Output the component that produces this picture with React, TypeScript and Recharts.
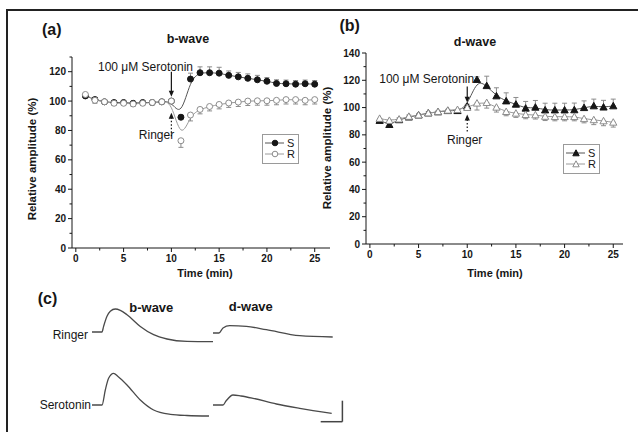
import React from 'react'
import {
    LineChart,
    Line,
    XAxis,
    YAxis,
    ErrorBar,
    ReferenceLine,
    Legend,
} from 'recharts'

// time after start of recording (min)
const MINUTES = [1, 2, 3, 4, 5, 6, 7, 8, 9, 10, 11, 12, 13, 14, 15, 16, 17, 18, 19, 20, 21, 22, 23, 24, 25]

// (a) b-wave, relative amplitude (%)
const BWAVE_S = [103.5, 101, 99.5, 99, 99, 98.5, 99, 99, 99.5, 100, 89, 115, 119.3, 119.3, 119, 117.5, 116.5, 115.5, 114.5, 113.5, 112, 111.8, 111.5, 111.8, 111.5]
const BWAVE_S_ERR = [1.5, 1.5, 1, 1, 1, 1, 1, 1, 1, 1, 1.5, 4, 4, 4, 4, 3, 3, 3, 3, 2.5, 2.5, 2.5, 2.5, 2.5, 2.5]
const BWAVE_R = [104.5, 100.5, 99.5, 98.5, 98.5, 98, 98.5, 99, 99.5, 100, 73, 90.5, 94.3, 96.3, 97.7, 98.7, 99.3, 100, 100.2, 100.2, 100.5, 101, 101, 100.5, 101]
const BWAVE_R_ERR = [2, 2, 1.5, 1.5, 1.5, 1.5, 1.5, 1.5, 1.5, 1.5, 4.5, 4, 3, 3, 3, 3, 3, 3, 3, 3, 3, 3, 3, 3, 3]

// (b) d-wave, relative amplitude (%)
const DWAVE_S = [90.5, 87.5, 91, 93, 94.5, 96, 96.8, 97.7, 97.7, 101, 120.5, 116, 108.5, 104.8, 102.4, 99.5, 100.2, 98.2, 98.2, 98.2, 98.3, 99.9, 101.2, 100.3, 101.2]
const DWAVE_S_ERR = [1.5, 1.5, 1.5, 1.5, 1, 1, 1, 1, 1, 1.5, 2, 7, 6, 6, 5, 5, 5, 5, 5, 5, 5, 5, 5, 5, 5]
const DWAVE_R = [92, 90.5, 91.5, 93.5, 94.5, 96, 97, 98, 98.5, 100, 103.2, 103.6, 100.2, 97, 95.8, 94.8, 94.6, 93.5, 93.3, 93.3, 93.3, 91.8, 91, 90.2, 89.2]
const DWAVE_R_ERR = [1.5, 1.5, 1.5, 1.5, 1, 1, 1, 1, 1, 1, 5, 4, 3.5, 3, 3, 3, 3, 3, 3, 3, 3, 3, 3.5, 3.5, 3.5]

const X_TICKS = [0, 2.5, 5, 7.5, 10, 12.5, 15, 17.5, 20, 22.5, 25]
const Y_TICKS_A = [0, 10, 20, 30, 40, 50, 60, 70, 80, 90, 100, 110, 120, 130]
const Y_TICKS_B = [0, 10, 20, 30, 40, 50, 60, 70, 80, 90, 100, 110, 120, 130, 140]

// (c) sample ERG traces: time (ms) vs amplitude (uV) from baseline
const RINGER_B_MS = [0, 10, 11.6, 15, 18.3, 23.3, 28.3, 35, 48.3, 61.6, 75, 95, 121]
const RINGER_B_UV = [0, 0, 5.6, 15.7, 20.7, 23, 21.7, 17.3, 5.6, -2.7, -7, -9.4, -9.7]
const SERO_B_MS = [0, 10, 13.3, 16.6, 21.6, 26, 35, 48.3, 61.6, 78.3, 95, 117]
const SERO_B_UV = [0, 0, 15, 26.7, 31.7, 28.5, 20, 5, -5, -9.3, -10.5, -11]
const RINGER_D_MS = [0, 6, 10, 16.7, 33.4, 53.4, 86.7, 119.7]
const RINGER_D_UV = [0, 0, 5, 7.3, 6.6, 3.3, -2.7, -4]
const SERO_D_MS = [0, 10, 13, 20, 28, 40, 63.4, 86.7, 118.7]
const SERO_D_UV = [0, 0, 4, 10, 9, 6.7, 1, -3.3, -8.3]
const SCALE_BAR_MS = [107.7, 129.4]
const SCALE_BAR_UV = [-16.7, 4.3]

const INK = '#161616'
const LINE_S = '#555'
const LINE_R = '#9a9a9a'
const ERR = '#8c8c8c'
const FONT = '"Liberation Sans", Arial, sans-serif'

const rows = (s: number[], sErr: number[], r: number[], rErr: number[]) =>
    MINUTES.map((t, i) => ({
        t,
        s: s[i],
        r: r[i],
        sErr: [0, sErr[i]],
        rErr: [rErr[i], 0],
    }))

const circleDot = (filled: boolean) => (p: any) => (
    <circle
        key={`c-${p.index}`}
        cx={p.cx}
        cy={p.cy}
        r={3}
        fill={filled ? INK : '#fff'}
        stroke={filled ? INK : ERR}
        strokeWidth={1}
    />
)

const triangleDot = (filled: boolean) => (p: any) => {
    const s = 3.6
    return (
        <polygon
            key={`t-${p.index}`}
            points={`${p.cx},${p.cy - s} ${p.cx + s},${p.cy + s * 0.8} ${p.cx - s},${p.cy + s * 0.8}`}
            fill={filled ? INK : '#fff'}
            stroke={filled ? INK : ERR}
            strokeWidth={1}
        />
    )
}

const XTick = (p: any) => {
    const v = p.payload.value
    const major = v % 5 === 0
    return (
        <g>
            <line x1={p.x} x2={p.x} y1={p.y} y2={p.y + (major ? 4 : 2.5)} stroke={INK} />
            {major && (
                <text x={p.x} y={p.y + 14} textAnchor="middle" fontSize={10} fontWeight="bold" fill={INK} fontFamily={FONT}>
                    {v}
                </text>
            )}
        </g>
    )
}

const YTick = (p: any) => {
    const v = p.payload.value
    const major = v % 20 === 0
    return (
        <g>
            <line x1={p.x} x2={p.x - (major ? 4 : 2.5)} y1={p.y} y2={p.y} stroke={INK} />
            {major && (
                <text x={p.x - 6} y={p.y + 3.5} textAnchor="end" fontSize={10} fontWeight="bold" fill={INK} fontFamily={FONT}>
                    {v}
                </text>
            )}
        </g>
    )
}

// vertical arrow, head at the end of the segment given by `down`
const Arrow = (down: boolean, dashed: boolean) => (p: any) => {
    const x = p.x1
    const top = Math.min(p.y1, p.y2)
    const bottom = Math.max(p.y1, p.y2)
    const tip = down ? bottom : top
    const d = down ? -1 : 1
    return (
        <g>
            <line
                x1={x}
                x2={x}
                y1={down ? top : bottom}
                y2={tip + d * 4}
                stroke={INK}
                strokeWidth={1.2}
                strokeDasharray={dashed ? '1.5 2' : undefined}
            />
            <polygon points={`${x - 2.6},${tip + d * 6} ${x + 2.6},${tip + d * 6} ${x},${tip}`} fill={INK} />
        </g>
    )
}

const LegendBox = (marker: 'circle' | 'triangle') => () => {
    const item = (label: string, filled: boolean, color: string) => (
        <div style={{ display: 'flex', alignItems: 'center', height: 11 }}>
            <svg width={19} height={10}>
                <line x1={0} x2={19} y1={5} y2={5} stroke={color} strokeWidth={1} />
                {marker === 'circle' ? (
                    <circle cx={10} cy={5} r={2.8} fill={filled ? INK : '#fff'} stroke={filled ? INK : ERR} />
                ) : (
                    <polygon points={`10,1.8 13.2,7.8 6.8,7.8`} fill={filled ? INK : '#fff'} stroke={filled ? INK : ERR} />
                )}
            </svg>
            <span style={{ fontSize: 11, marginLeft: 3, color: INK, fontFamily: FONT, lineHeight: 1 }}>{label}</span>
        </div>
    )
    return (
        <div style={{ border: '1px solid #9a9a9a', padding: '2.5px 3px 3.5px 2px', background: '#fff' }}>
            {item('S', true, LINE_S)}
            {item('R', false, LINE_R)}
        </div>
    )
}

interface PanelProps {
    data: ReturnType<typeof rows>
    left: number
    top: number
    plotTop: number
    plotWidth: number
    xMax: number
    yMax: number
    yTicks: number[]
    marker: 'circle' | 'triangle'
    legendPos: { left: number; top: number }
    seroArrow: [number, number]
    ringerArrow: [number, number]
}

function TimeCoursePanel(props: PanelProps) {
    const { data, marker } = props
    const dot = marker === 'circle' ? circleDot : triangleDot
    return (
        <div style={{ position: 'absolute', left: props.left, top: props.top }}>
            <LineChart
                width={72 + props.plotWidth}
                height={props.plotTop + 191 + 40}
                data={data}
                margin={{ top: props.plotTop, right: 0, bottom: 0, left: 0 }}
            >
                <XAxis
                    dataKey="t"
                    type="number"
                    domain={[-0.4, props.xMax]}
                    ticks={X_TICKS}
                    interval={0}
                    tickSize={0}
                    tickMargin={0}
                    tick={XTick}
                    height={40}
                    stroke={INK}
                    allowDataOverflow
                />
                <YAxis
                    type="number"
                    domain={[0, props.yMax]}
                    ticks={props.yTicks}
                    interval={0}
                    tickSize={0}
                    tickMargin={0}
                    tick={YTick}
                    width={72}
                    stroke={INK}
                    allowDataOverflow
                />
                <ReferenceLine
                    segment={[{ x: 10, y: props.seroArrow[0] }, { x: 10, y: props.seroArrow[1] }]}
                    shape={Arrow(true, false)}
                />
                <ReferenceLine
                    segment={[{ x: 10, y: props.ringerArrow[0] }, { x: 10, y: props.ringerArrow[1] }]}
                    shape={Arrow(false, true)}
                />
                <Line
                    dataKey="s"
                    type="basis"
                    stroke={LINE_S}
                    strokeWidth={1}
                    dot={dot(true)}
                    isAnimationActive={false}
                >
                    <ErrorBar dataKey="sErr" direction="y" width={2.5} stroke={ERR} strokeWidth={1} />
                </Line>
                <Line
                    dataKey="r"
                    type="basis"
                    stroke={LINE_R}
                    strokeWidth={1}
                    dot={dot(false)}
                    isAnimationActive={false}
                >
                    <ErrorBar dataKey="rErr" direction="y" width={2.5} stroke={ERR} strokeWidth={1} />
                </Line>
                <Legend
                    layout="horizontal"
                    verticalAlign="middle"
                    align="center"
                    content={LegendBox(marker)}
                    wrapperStyle={{ left: props.legendPos.left, top: props.legendPos.top, width: 'auto' }}
                />
            </LineChart>
        </div>
    )
}

const traceRows = (ms: number[], uv: number[]) => ms.map((m, i) => ({ ms: m, uv: uv[i] }))

function Trace({ ms, uv, left, baseline, scaleBar }: { ms: number[]; uv: number[]; left: number; baseline: number; scaleBar?: boolean }) {
    return (
        <div style={{ position: 'absolute', left, top: baseline - 35 }}>
            <LineChart width={132} height={53} data={traceRows(ms, uv)} margin={{ top: 0, right: 0, bottom: 0, left: 0 }}>
                <XAxis dataKey="ms" type="number" domain={[0, 132]} hide />
                <YAxis type="number" domain={[-18, 35]} hide />
                <Line dataKey="uv" type="monotone" stroke="#4a4a4a" strokeWidth={1.3} dot={false} isAnimationActive={false} />
                {scaleBar && (
                    <ReferenceLine
                        segment={[{ x: SCALE_BAR_MS[0], y: SCALE_BAR_UV[0] }, { x: SCALE_BAR_MS[1], y: SCALE_BAR_UV[0] }]}
                        stroke="#444"
                        strokeWidth={1.5}
                    />
                )}
                {scaleBar && (
                    <ReferenceLine
                        segment={[{ x: SCALE_BAR_MS[1], y: SCALE_BAR_UV[0] }, { x: SCALE_BAR_MS[1], y: SCALE_BAR_UV[1] }]}
                        stroke="#444"
                        strokeWidth={1.5}
                    />
                )}
            </LineChart>
        </div>
    )
}

function Txt({ x, y, size = 12, bold = false, anchor = 'middle', rotate = false, children }: any) {
    const tx = anchor === 'end' ? '-100%' : anchor === 'start' ? '0' : '-50%'
    return (
        <div
            style={{
                position: 'absolute',
                left: x,
                top: y,
                transform: `translate(${tx}, -50%)${rotate ? ' rotate(-90deg)' : ''}`,
                fontSize: size,
                fontWeight: bold ? 'bold' : 'normal',
                lineHeight: 1,
                whiteSpace: 'nowrap',
                color: INK,
                fontFamily: FONT,
            }}
        >
            {children}
        </div>
    )
}

export default function App() {
    return (
        <div style={{ position: 'absolute', left: 0, top: 0, width: 638, height: 432, background: '#fff', overflow: 'hidden', fontFamily: FONT }}>
            <div style={{ position: 'absolute', left: 6, top: 9, right: -4, bottom: -4, borderLeft: '2px solid #222', borderTop: '2px solid #222' }} />

            <TimeCoursePanel
                data={rows(BWAVE_S, BWAVE_S_ERR, BWAVE_R, BWAVE_R_ERR)}
                left={0}
                top={0}
                plotTop={57}
                plotWidth={258}
                xMax={26.6}
                yMax={130}
                yTicks={Y_TICKS_A}
                marker="circle"
                legendPos={{ left: 262, top: 134 }}
                seroArrow={[120, 103]}
                ringerArrow={[76, 92]}
            />
            <TimeCoursePanel
                data={rows(DWAVE_S, DWAVE_S_ERR, DWAVE_R, DWAVE_R_ERR)}
                left={294}
                top={0}
                plotTop={53}
                plotWidth={257}
                xMax={26}
                yMax={140}
                yTicks={Y_TICKS_B}
                marker="triangle"
                legendPos={{ left: 269, top: 144 }}
                seroArrow={[115.5, 103.5]}
                ringerArrow={[82.5, 95]}
            />

            <Txt x={51.7} y={30} size={16} bold>(a)</Txt>
            <Txt x={188} y={39} size={12.5} bold>b-wave</Txt>
            <Txt x={33} y={159} size={11.5} bold rotate>Relative amplitude (%)</Txt>
            <Txt x={205} y={273} size={11} bold>Time (min)</Txt>
            <Txt x={145.5} y={67} size={12}>100 μM Serotonin</Txt>
            <Txt x={156.5} y={135} size={12}>Ringer</Txt>

            <Txt x={349.7} y={26} size={16} bold>(b)</Txt>
            <Txt x={475} y={42} size={12.5} bold>d-wave</Txt>
            <Txt x={328} y={148} size={11.5} bold rotate>Relative amplitude (%)</Txt>
            <Txt x={495} y={273} size={11} bold>Time (min)</Txt>
            <Txt x={426.7} y={79} size={12}>100 μM Serotonin</Txt>
            <Txt x={464.7} y={140} size={12}>Ringer</Txt>

            <Txt x={47.5} y={299} size={16} bold>(c)</Txt>
            <Txt x={151.3} y={307} size={13} bold>b-wave</Txt>
            <Txt x={250.8} y={306} size={13} bold>d-wave</Txt>
            <Txt x={88} y={335} size={12} anchor="end">Ringer</Txt>
            <Txt x={91} y={405} size={12} anchor="end">Serotonin</Txt>

            <Trace ms={RINGER_B_MS} uv={RINGER_B_UV} left={91.7} baseline={332.3} />
            <Trace ms={SERO_B_MS} uv={SERO_B_UV} left={91.7} baseline={405} />
            <Trace ms={RINGER_D_MS} uv={RINGER_D_UV} left={213.3} baseline={333.3} />
            <Trace ms={SERO_D_MS} uv={SERO_D_UV} left={213.3} baseline={405} scaleBar />
        </div>
    )
}
